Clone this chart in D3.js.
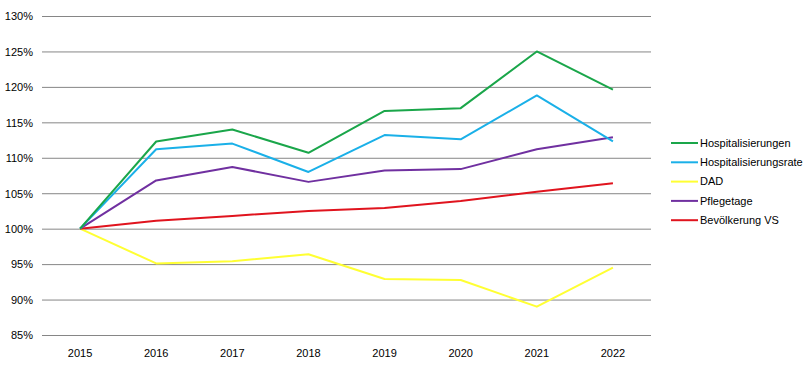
<!DOCTYPE html>
<html><head><meta charset="utf-8">
<script src="https://cdn.jsdelivr.net/npm/d3@7"></script>
<style>body{margin:0;background:#fff}svg{display:block}text{font-family:"Liberation Sans",Arial,sans-serif;font-size:11px;fill:#000}</style>
</head><body>
<svg id="c" width="809" height="365"></svg>
<script>
const years = ["2015","2016","2017","2018","2019","2020","2021","2022"];
const seriesNames = ["Hospitalisierungen","Hospitalisierungsrate","DAD","Pflegetage","Bevölkerung VS"];
const seriesColors = ["#1aa64a","#1ab0e8","#ffff33","#7030a0","#e0141e"];
const hospitalisierungen = [100,112.3,114.0,110.7,116.6,117.0,125.0,119.6];
const hospitalisierungsrate = [100,111.2,112.0,108.0,113.2,112.6,118.8,112.3];
const dad = [100,95.1,95.4,96.4,92.9,92.75,89.0,94.5];
const pflegetage = [100,106.8,108.7,106.6,108.2,108.4,111.2,112.9];
const bevoelkerung = [100,101.1,101.8,102.5,102.9,103.9,105.2,106.4];
const yTicks = [85,90,95,100,105,110,115,120,125,130];

const seriesValues = [hospitalisierungen,hospitalisierungsrate,dad,pflegetage,bevoelkerung];
const drawOrder = [2,4,3,1,0];

(function(){
const svg = d3.select("#c");
const mL = 42, mR = 651, mT = 16, mB = 335;
const x = d3.scaleBand().domain(years).range([mL, mR]);
const y = d3.scaleLinear().domain([85,130]).range([mB, mT]);

const yAxis = svg.append("g").attr("transform",`translate(${mL},0)`)
  .call(d3.axisLeft(y).tickValues(yTicks).tickSize(-(mR-mL)).tickFormat(d=>d+"%"));
yAxis.select(".domain").remove();
yAxis.selectAll(".tick line").attr("stroke","#868686").attr("stroke-width",1);
yAxis.selectAll(".tick text").attr("x",-9).attr("dy","0.35em");

const xAxis = svg.append("g").attr("transform",`translate(0,${mB})`)
  .call(d3.axisBottom(x).tickSize(0));
xAxis.select(".domain").remove();
xAxis.selectAll(".tick text").attr("y",14).attr("dy","0.71em");

const line = d3.line().x((d,i)=>x(years[i])+x.bandwidth()/2).y(d=>y(d));
drawOrder.forEach(k=>{
  svg.append("path").datum(seriesValues[k]).attr("d",line)
    .attr("fill","none").attr("stroke",seriesColors[k]).attr("stroke-width",2)
    .attr("stroke-linejoin","round");
});

const lg = svg.append("g").attr("transform","translate(671,143)");
seriesNames.forEach((n,i)=>{
  const g = lg.append("g").attr("transform",`translate(0,${i*19.3})`);
  g.append("line").attr("x1",0).attr("x2",27).attr("stroke",seriesColors[i]).attr("stroke-width",2);
  g.append("text").attr("x",29).attr("dy","0.35em").text(n);
});
})();
</script>
</body></html>
